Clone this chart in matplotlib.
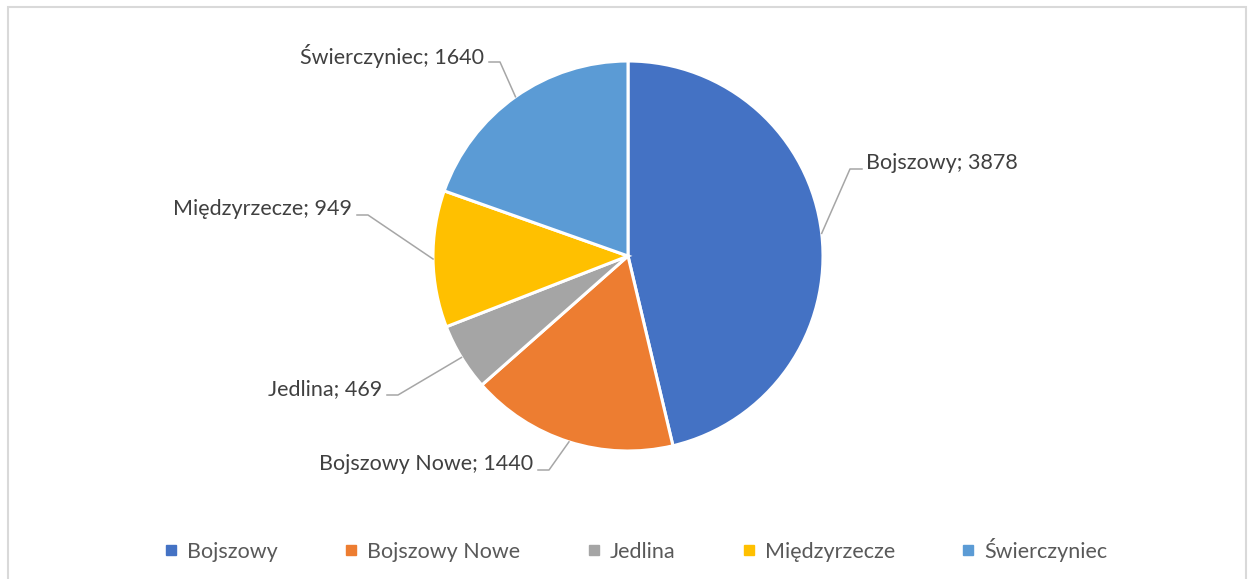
import matplotlib.pyplot as plt
import numpy as np
from matplotlib.lines import Line2D
from matplotlib.patches import Rectangle

# data
names = ['Bojszowy', 'Bojszowy Nowe', 'Jedlina', 'Międzyrzecze', 'Świerczyniec']
values = [3878, 1440, 469, 949, 1640]
colors = ['#4472C4', '#ED7D31', '#A5A5A5', '#FFC000', '#5B9BD5']

# layout (pixels, top-left origin): where each label's leader stub starts, and side
stub_pos = [(850, 169, 'right'), (549, 470, 'left'), (398, 395, 'left'),
            (368, 215, 'left'), (500, 62, 'left')]

W, H = 1253, 579
cx, cy, R = 628, 256, 195

plt.rcParams['font.family'] = ['Lato', 'DejaVu Sans']
fig = plt.figure(figsize=(W / 100, H / 100), dpi=100)
ax = fig.add_axes([0, 0, 1, 1])
ax.set_xlim(0, W)
ax.set_ylim(0, H)
ax.axis('off')

ax.add_patch(Rectangle((8, -20), 1238, H - 7 + 20, fill=False, ec='#d9d9d9', lw=1.5))

wedges, _ = ax.pie(values, colors=colors, startangle=90, counterclock=False,
                   center=(cx, H - cy), radius=R,
                   wedgeprops=dict(edgecolor='white', linewidth=2.2))
ax.set_xlim(0, W)
ax.set_ylim(0, H)
ax.set_aspect('auto')

total = sum(values)
cum = 0
for name, v, (sx, sy, side) in zip(names, values, stub_pos):
    mid = (cum + v / 2) / total * 2 * np.pi
    cum += v
    ex = cx + R * np.sin(mid)
    ey = H - (cy - R * np.cos(mid))
    sy2 = H - sy
    if side == 'right':
        ax.plot([ex, sx, sx + 12], [ey, sy2, sy2], color='#a6a6a6', lw=1.1)
        ax.text(sx + 16, sy2 + 6, f'{name}; {v}', ha='left', va='center',
                fontsize=15.5, color='#404040')
    else:
        ax.plot([ex, sx, sx - 11], [ey, sy2, sy2], color='#a6a6a6', lw=1.1)
        ax.text(sx - 16, sy2 + 6, f'{name}; {v}', ha='right', va='center',
                fontsize=15.5, color='#404040')

handles = [Line2D([], [], marker='s', ls='', color=c, markersize=6.5) for c in colors]
leg = fig.legend(handles, names, loc='center', bbox_to_anchor=(636 / W, 1 - 550 / H),
                 ncol=5, frameon=False, fontsize=15.5, handlelength=0.6,
                 handletextpad=0.45, columnspacing=3.1, labelcolor='#595959')

fig.savefig('out.png', dpi=100)
